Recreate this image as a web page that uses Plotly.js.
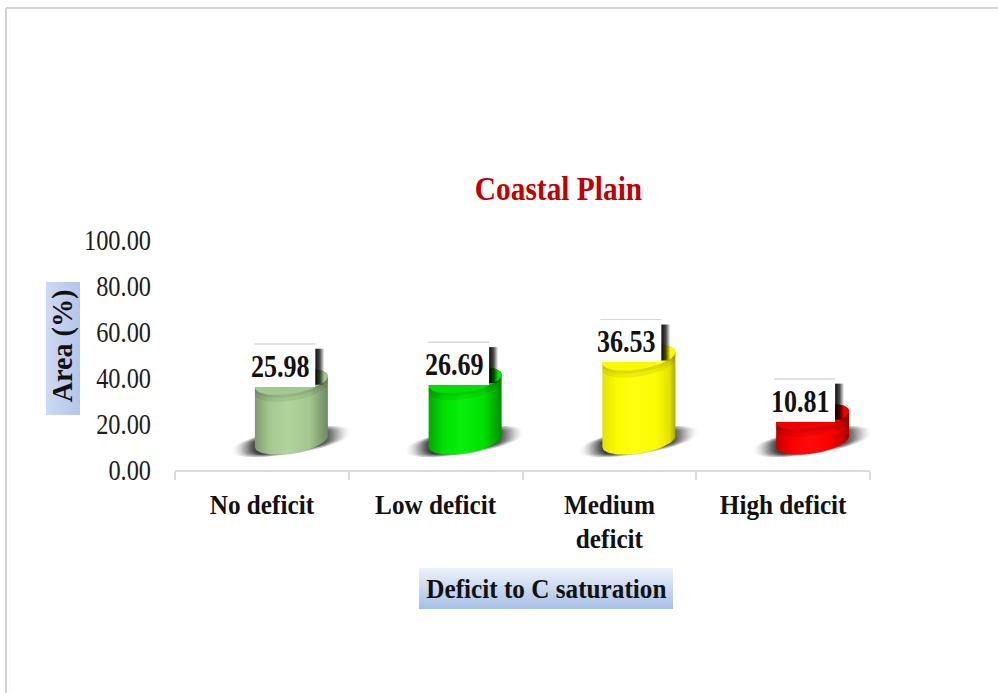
<!DOCTYPE html>
<html>
<head>
<meta charset="utf-8">
<script src="https://cdn.plot.ly/plotly-3.0.1.min.js"></script>
<style>html,body{margin:0;padding:0;background:#fff}#chart{width:998px;height:693px}</style>
</head>
<body>
<div id="chart"></div>
<script>
// Chart values
const categories = ["No deficit", "Low deficit", "Medium<br>deficit", "High deficit"];
const areaPercent = [25.98, 26.69, 36.53, 10.81];
const yTicks = [0, 20, 40, 60, 80, 100];
const chartTitle = "Coastal Plain";
const xTitle = "Deficit to C saturation";
const yTitle = "Area (%)";

// Cylinder colours: edge, mid, highlight, far edge
const bodyColors = [
  ["#7f9c70", "#a3c88f", "#b0d59c", "#6f8a62"],
  ["#00a800", "#00e000", "#0af00a", "#008c00"],
  ["#e2e200", "#fbfb00", "#ffff10", "#a8a800"],
  ["#c80000", "#f80000", "#ff0a0a", "#980000"]
];
const topColors = ["#a3c88f", "#00e000", "#fbfb00", "#f00000"];

// Plot box in page pixels
const W = 998, H = 693;
const box = {l: 175, r: 870, t: 240, b: 470};
const pxX = (box.r - box.l) / categories.length;   // pixels per category
const pxY = (box.b - box.t) / 100;                 // pixels per percent
const dx = p => p / pxX;
const dy = p => p / pxY;
const paperX = x => (x - box.l) / (box.r - box.l);
const paperY = y => (box.b - y) / (box.b - box.t);

// Oblique cylinder projection, in axis units
const depthX = dx(29.5), floorY = dy(28.5);
const radX = dx(36.5), tiltY = dy(5.5), radY = dy(12);

function arc(cx, cy, rx, ty, ry, from, to, n) {
  const xs = [], ys = [];
  for (let i = 0; i <= n; i++) {
    const t = from + (to - from) * i / n;
    xs.push(cx + rx * Math.cos(t));
    ys.push(cy + ty * Math.cos(t) - ry * Math.sin(t));
  }
  return [xs, ys];
}
function poly(xs, ys, scale) {
  return {
    x: xs, y: ys, type: "scatter", mode: "lines", fill: "toself",
    line: {width: 0}, hoverinfo: "skip", showlegend: false,
    fillcolor: typeof scale === "string" ? scale : undefined,
    fillgradient: typeof scale === "string" ? undefined : {type: "horizontal", colorscale: scale}
  };
}

const traces = [];
areaPercent.forEach((v, i) => {
  const cx = i + depthX, top = floorY + v;
  // ground shadow, layered so its rim fades out
  [[60, 12.5, .3], [56, 11.5, .45], [51, 10.5, .6], [45, 9.5, .8]].forEach(([a, b, o]) => {
    const [sx, sy] = arc(cx, floorY, dx(a), dy(a * .155), dy(b), 0, 2 * Math.PI, 48);
    traces.push(poly(sx, sy, [[0, "rgba(50,50,50,0)"], [.2, `rgba(35,35,35,${o})`],
      [.8, `rgba(60,60,60,${o})`], [1, "rgba(90,90,90,0)"]]));
  });
  // cylinder wall
  const [bx, by] = arc(cx, floorY, radX, tiltY, radY, Math.PI, 0, 40);
  const [tx, ty] = arc(cx, top, radX, tiltY, radY, 0, -Math.PI, 40);
  const c = bodyColors[i];
  traces.push(poly(bx.concat(tx), by.concat(ty),
    [[0, c[0]], [.2, c[1]], [.45, c[2]], [.75, c[1]], [.92, c[0]], [1, c[3]]]));
  // cylinder lid and the soft shade along its front rim
  const [lx, ly] = arc(cx, top, radX, tiltY, radY, 0, 2 * Math.PI, 60);
  traces.push(poly(lx, ly, topColors[i]));
  [3, 7].forEach(depth => {
    const [fx, fy] = arc(cx, top, radX, tiltY, radY, 0, Math.PI, 40);
    const [gx, gy] = arc(cx, top - dy(depth), radX, tiltY, radY, Math.PI, 0, 40);
    traces.push(poly(fx.concat(gx), fy.concat(gy), "rgba(0,0,0,0.07)"));
  });
});

// Value labels sit up-right of each category centre, above the lid
const labelW = 66, labelH = 42, labelPad = 2;
const labelX = i => i + dx(i < 2 ? 20.5 : 19);
const labelY = v => floorY + v + dy(16);
areaPercent.forEach((v, i) => {
  const r = labelX(i) + dx(labelW / 2), t = labelY(v) + dy(labelH / 2), b = labelY(v) - dy(labelH / 2);
  traces.push(poly([r, r + dx(9), r + dx(9), r], [t - dy(4), t - dy(4), b + dy(2), b + dy(2)],
    [[0, "rgba(0,0,0,.95)"], [.5, "rgba(0,0,0,.7)"], [1, "rgba(0,0,0,0)"]]));
  const l = labelX(i) - dx(labelW / 2) + dx(5);
  traces.push(poly([l, r, r, l], [t + dy(1.5), t + dy(1.5), t, t], "rgba(140,140,140,.35)"));
});

// Soft blue title plates, built from thin strips
function plate(x0, x1, y0, y1, from, to, vertical) {
  const out = [], n = vertical ? y1 - y0 : x1 - x0;
  for (let k = 0; k < n; k++) {
    const f = k / (n - 1);
    const col = from.map((a, j) => Math.round(a + (to[j] - a) * f));
    out.push({
      type: "rect", xref: "paper", yref: "paper", layer: "below",
      x0: paperX(vertical ? x0 : x0 + k), x1: paperX(vertical ? x1 : x0 + k + 1),
      y0: paperY(vertical ? y0 + k : y0), y1: paperY(vertical ? y0 + k + 1 : y1),
      fillcolor: `rgb(${col})`, line: {width: 0}
    });
  }
  return out;
}
const frameLine = (x0, y0, x1, y1, color, width) => ({
  type: "line", xref: "paper", yref: "paper", layer: "below",
  x0: paperX(x0), x1: paperX(x1), y0: paperY(y0), y1: paperY(y1),
  line: {color, width}
});

const shapes = [
  frameLine(6, 8, W, 8, "#d2d2d2", 2),
  frameLine(6, 8, 6, H, "#d2d2d2", 2),
  frameLine(8, 12, W, 12, "#f6f6f6", 1),
  frameLine(10, 12, 10, H, "#f8f8f8", 1),
  ...plate(419, 673, 568, 609, [236, 241, 250], [168, 191, 230], true),
  ...plate(46, 80, 282, 415, [206, 217, 242], [180, 198, 234], false)
];

const serif = "'Liberation Serif', serif";
const ink = "#111";
const annotations = areaPercent.map((v, i) => ({
  x: labelX(i), y: labelY(v), xref: "x", yref: "y", showarrow: false,
  text: v.toFixed(2), width: labelW - 2 * labelPad, height: labelH - 2 * labelPad,
  bgcolor: "#fff", align: "left", borderpad: labelPad, borderwidth: 0,
  xanchor: "center", yanchor: "middle",
  font: {family: serif, size: 31, color: ink, weight: 700}
}));
annotations.push(
  {x: paperX(546), y: paperY(588), xref: "paper", yref: "paper", showarrow: false,
   text: xTitle, xanchor: "center", yanchor: "middle",
   font: {family: serif, size: 28, color: ink, weight: 700}},
  {x: paperX(62), y: paperY(346), xref: "paper", yref: "paper", showarrow: false,
   text: yTitle, textangle: -90, xanchor: "center", yanchor: "middle",
   font: {family: serif, size: 29, color: ink, weight: 700}}
);

const layout = {
  width: W, height: H,
  margin: {l: box.l, r: W - box.r, t: box.t, b: H - box.b, pad: 0},
  paper_bgcolor: "#fff", plot_bgcolor: "rgba(0,0,0,0)",
  showlegend: false,
  title: {
    text: chartTitle, x: 558.5 / W, y: 1 - 188 / H, xref: "container", yref: "container",
    xanchor: "center", yanchor: "middle",
    font: {family: serif, size: 33, color: "#c00000", weight: 700}
  },
  xaxis: {
    type: "linear", range: [-0.5, categories.length - 0.5], fixedrange: true,
    tickmode: "array", tickvals: categories.map((_, i) => i), ticktext: categories,
    ticks: "", showgrid: false, zeroline: false, ticklabelstandoff: 8,
    showline: true, linecolor: "#d9d9d9", linewidth: 2,
    tickfont: {family: serif, size: 28, color: ink, weight: 700},
    minor: {
      tickmode: "array", tickvals: [-0.5, 0.5, 1.5, 2.5, 3.5],
      ticks: "outside", ticklen: 8, tickwidth: 2, tickcolor: "#d9d9d9", showgrid: false
    }
  },
  yaxis: {
    range: [0, 100], fixedrange: true, tickmode: "array", tickvals: yTicks,
    tickformat: ".2f", ticks: "", showgrid: false, zeroline: false, showline: false,
    ticklabelstandoff: 23,
    tickfont: {family: serif, size: 29, color: "#1c1c1c"}
  },
  shapes, annotations
};

// The lettering is set tall and narrow: squeeze each run of text horizontally
function condense(node, factor) {
  const lines = node.querySelectorAll("tspan.line");
  (lines.length ? [...lines] : [node]).forEach((el, k) => {
    el.setAttribute("textLength", (el.getComputedTextLength() * factor).toFixed(1));
    el.setAttribute("lengthAdjust", "spacingAndGlyphs");
    if (k > 0) el.setAttribute("dy", "34px");
  });
}
Plotly.newPlot("chart", traces, layout, {staticPlot: true, displayModeBar: false}).then(gd => {
  gd.querySelectorAll(".ytick text").forEach(n => condense(n, .84));
  gd.querySelectorAll(".xtick text").forEach(n => condense(n, .9));
  gd.querySelectorAll(".gtitle").forEach(n => condense(n, .89));
  gd.querySelectorAll(".annotation-text").forEach(n => {
    const s = n.textContent;
    condense(n, s === xTitle ? .9 : s === yTitle ? .97 : .84);
  });
});
</script>
</body>
</html>
